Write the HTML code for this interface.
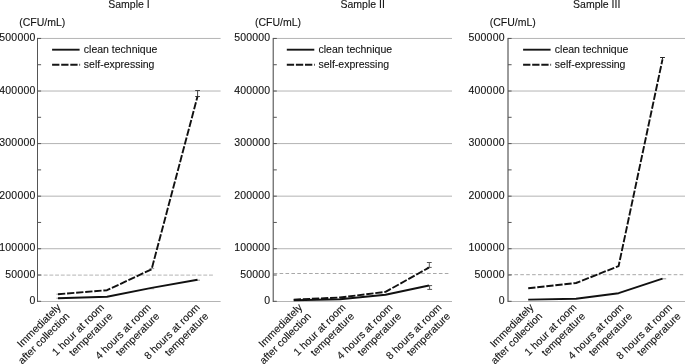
<!DOCTYPE html><html><head><meta charset="utf-8"><style>html,body{margin:0;padding:0;background:#fff;overflow:hidden;}svg{display:block;filter:grayscale(1);}text{font-family:"Liberation Sans",sans-serif;font-size:10.5px;fill:#141414;stroke:#141414;stroke-width:0.12px;}</style></head><body>
<svg width="685" height="364" viewBox="0 0 685 364">
<text x="129.0" y="7.5" text-anchor="middle">Sample I</text>
<text x="19.2" y="26.3">(CFU/mL)</text>
<line x1="37.5" y1="248.73" x2="220.6" y2="248.73" stroke="#b4b4b4" stroke-width="1"/>
<line x1="37.5" y1="196.16" x2="220.6" y2="196.16" stroke="#b4b4b4" stroke-width="1"/>
<line x1="37.5" y1="143.59" x2="220.6" y2="143.59" stroke="#b4b4b4" stroke-width="1"/>
<line x1="37.5" y1="91.02" x2="220.6" y2="91.02" stroke="#b4b4b4" stroke-width="1"/>
<line x1="37.5" y1="38.45" x2="220.6" y2="38.45" stroke="#b4b4b4" stroke-width="1"/>
<line x1="38.0" y1="275.1" x2="214" y2="275.1" stroke="#c4c4c4" stroke-width="1.3" stroke-dasharray="3.9 1.8"/>
<line x1="37.5" y1="301.5" x2="220.6" y2="301.5" stroke="#b4b4b4" stroke-width="1"/>
<line x1="37.5" y1="37.95" x2="37.5" y2="302.0" stroke="#555" stroke-width="1"/>
<line x1="37.5" y1="301.30" x2="41.1" y2="301.30" stroke="#555" stroke-width="1"/>
<line x1="37.5" y1="275.01" x2="41.1" y2="275.01" stroke="#555" stroke-width="1"/>
<line x1="37.5" y1="248.73" x2="41.1" y2="248.73" stroke="#555" stroke-width="1"/>
<line x1="37.5" y1="222.44" x2="41.1" y2="222.44" stroke="#555" stroke-width="1"/>
<line x1="37.5" y1="196.16" x2="41.1" y2="196.16" stroke="#555" stroke-width="1"/>
<line x1="37.5" y1="169.88" x2="41.1" y2="169.88" stroke="#555" stroke-width="1"/>
<line x1="37.5" y1="143.59" x2="41.1" y2="143.59" stroke="#555" stroke-width="1"/>
<line x1="37.5" y1="117.30" x2="41.1" y2="117.30" stroke="#555" stroke-width="1"/>
<line x1="37.5" y1="91.02" x2="41.1" y2="91.02" stroke="#555" stroke-width="1"/>
<line x1="37.5" y1="64.73" x2="41.1" y2="64.73" stroke="#555" stroke-width="1"/>
<line x1="37.5" y1="38.45" x2="41.1" y2="38.45" stroke="#555" stroke-width="1"/>
<text x="35.45" y="303.80" text-anchor="end" letter-spacing="0.18">0</text>
<text x="35.45" y="277.51" text-anchor="end" letter-spacing="0.18">50000</text>
<text x="35.45" y="251.23" text-anchor="end" letter-spacing="0.18">100000</text>
<text x="35.45" y="198.66" text-anchor="end" letter-spacing="0.18">200000</text>
<text x="35.45" y="146.09" text-anchor="end" letter-spacing="0.18">300000</text>
<text x="35.45" y="93.52" text-anchor="end" letter-spacing="0.18">400000</text>
<text x="35.45" y="40.95" text-anchor="end" letter-spacing="0.18">500000</text>
<line x1="52.1" y1="49.7" x2="79.6" y2="49.7" stroke="#161616" stroke-width="1.9"/>
<text x="83.8" y="52.7">clean technique</text>
<line x1="52.1" y1="64.8" x2="80.1" y2="64.8" stroke="#161616" stroke-width="1.9" stroke-dasharray="7.3 1.8"/>
<text x="83.8" y="67.7">self-expressing</text>
<line x1="197.6" y1="90.5" x2="197.6" y2="96.5" stroke="#444" stroke-width="1"/>
<line x1="195.2" y1="90.5" x2="200.0" y2="90.5" stroke="#444" stroke-width="1"/>
<line x1="195.2" y1="96.5" x2="200.0" y2="96.5" stroke="#444" stroke-width="1"/>
<line x1="149.4" y1="268.6" x2="154.20000000000002" y2="268.6" stroke="#999" stroke-width="1"/>
<line x1="149.4" y1="288.8" x2="154.20000000000002" y2="288.8" stroke="#aaa" stroke-width="1"/>
<line x1="195.2" y1="280.2" x2="200.0" y2="280.2" stroke="#999" stroke-width="1"/>
<line x1="56.4" y1="294.2" x2="61.199999999999996" y2="294.2" stroke="#999" stroke-width="1"/>
<line x1="56.4" y1="298.2" x2="61.199999999999996" y2="298.2" stroke="#999" stroke-width="1"/>
<polyline points="58,298.2 107,296.8 151.6,287.9 197.5,279.8" fill="none" stroke="#111" stroke-width="1.9" stroke-linejoin="round"/>
<polyline points="58,294.2 107,290.2 151.6,269.3 197.5,96.5" fill="none" stroke="#111" stroke-width="1.9" stroke-dasharray="7.3 1.8" stroke-linejoin="round"/>
<text transform="translate(61.40,308.00) rotate(-45)" text-anchor="end"><tspan x="0" y="0">Immediately</tspan><tspan x="0" y="12.4">after collection</tspan></text>
<text transform="translate(104.60,308.00) rotate(-45)" text-anchor="end"><tspan x="0" y="0">1 hour at room</tspan><tspan x="0" y="12.4">temperature</tspan></text>
<text transform="translate(151.40,308.00) rotate(-45)" text-anchor="end"><tspan x="0" y="0">4 hours at room</tspan><tspan x="0" y="12.4">temperature</tspan></text>
<text transform="translate(200.40,308.00) rotate(-45)" text-anchor="end"><tspan x="0" y="0">8 hours at room</tspan><tspan x="0" y="12.4">temperature</tspan></text>
<text x="362.65" y="7.5" text-anchor="middle">Sample II</text>
<text x="254.9" y="26.3">(CFU/mL)</text>
<line x1="273.2" y1="248.73" x2="452" y2="248.73" stroke="#b4b4b4" stroke-width="1"/>
<line x1="273.2" y1="196.16" x2="452" y2="196.16" stroke="#b4b4b4" stroke-width="1"/>
<line x1="273.2" y1="143.59" x2="452" y2="143.59" stroke="#b4b4b4" stroke-width="1"/>
<line x1="273.2" y1="91.02" x2="452" y2="91.02" stroke="#b4b4b4" stroke-width="1"/>
<line x1="273.2" y1="38.45" x2="452" y2="38.45" stroke="#b4b4b4" stroke-width="1"/>
<line x1="273.7" y1="273.5" x2="450" y2="273.5" stroke="#a8a8a8" stroke-width="1.0" stroke-dasharray="3.6 2.3"/>
<line x1="273.2" y1="301.5" x2="452" y2="301.5" stroke="#b4b4b4" stroke-width="1"/>
<line x1="273.2" y1="37.95" x2="273.2" y2="302.0" stroke="#404040" stroke-width="1"/>
<line x1="273.2" y1="301.30" x2="276.8" y2="301.30" stroke="#555" stroke-width="1"/>
<line x1="273.2" y1="275.01" x2="276.8" y2="275.01" stroke="#555" stroke-width="1"/>
<line x1="273.2" y1="248.73" x2="276.8" y2="248.73" stroke="#555" stroke-width="1"/>
<line x1="273.2" y1="222.44" x2="276.8" y2="222.44" stroke="#555" stroke-width="1"/>
<line x1="273.2" y1="196.16" x2="276.8" y2="196.16" stroke="#555" stroke-width="1"/>
<line x1="273.2" y1="169.88" x2="276.8" y2="169.88" stroke="#555" stroke-width="1"/>
<line x1="273.2" y1="143.59" x2="276.8" y2="143.59" stroke="#555" stroke-width="1"/>
<line x1="273.2" y1="117.30" x2="276.8" y2="117.30" stroke="#555" stroke-width="1"/>
<line x1="273.2" y1="91.02" x2="276.8" y2="91.02" stroke="#555" stroke-width="1"/>
<line x1="273.2" y1="64.73" x2="276.8" y2="64.73" stroke="#555" stroke-width="1"/>
<line x1="273.2" y1="38.45" x2="276.8" y2="38.45" stroke="#555" stroke-width="1"/>
<text x="270.40" y="303.80" text-anchor="end" letter-spacing="0.18">0</text>
<text x="270.40" y="277.51" text-anchor="end" letter-spacing="0.18">50000</text>
<text x="270.40" y="251.23" text-anchor="end" letter-spacing="0.18">100000</text>
<text x="270.40" y="198.66" text-anchor="end" letter-spacing="0.18">200000</text>
<text x="270.40" y="146.09" text-anchor="end" letter-spacing="0.18">300000</text>
<text x="270.40" y="93.52" text-anchor="end" letter-spacing="0.18">400000</text>
<text x="270.40" y="40.95" text-anchor="end" letter-spacing="0.18">500000</text>
<line x1="286.8" y1="49.7" x2="314.3" y2="49.7" stroke="#161616" stroke-width="1.9"/>
<text x="318.5" y="52.7">clean technique</text>
<line x1="286.8" y1="64.8" x2="314.8" y2="64.8" stroke="#161616" stroke-width="1.9" stroke-dasharray="7.3 1.8"/>
<text x="318.5" y="67.7">self-expressing</text>
<line x1="429.3" y1="262.5" x2="429.3" y2="267.4" stroke="#555" stroke-width="1"/>
<line x1="429.6" y1="285.6" x2="429.6" y2="289.4" stroke="#555" stroke-width="1"/>
<line x1="426.90000000000003" y1="262.5" x2="431.7" y2="262.5" stroke="#555" stroke-width="1"/>
<line x1="426.90000000000003" y1="267.4" x2="431.7" y2="267.4" stroke="#555" stroke-width="1"/>
<line x1="427.3" y1="285.6" x2="432.09999999999997" y2="285.6" stroke="#555" stroke-width="1"/>
<line x1="427.3" y1="289.4" x2="432.09999999999997" y2="289.4" stroke="#555" stroke-width="1"/>
<polyline points="293.7,300.2 340,299.3 385.5,294.8 429.0,285.5" fill="none" stroke="#111" stroke-width="1.9" stroke-linejoin="round"/>
<polyline points="293.7,299.6 340,297.5 385.5,291.9 429.0,267.6" fill="none" stroke="#111" stroke-width="1.9" stroke-dasharray="7.3 1.8" stroke-linejoin="round"/>
<text transform="translate(302.90,308.00) rotate(-45)" text-anchor="end"><tspan x="0" y="0">Immediately</tspan><tspan x="0" y="12.4">after collection</tspan></text>
<text transform="translate(346.10,308.00) rotate(-45)" text-anchor="end"><tspan x="0" y="0">1 hour at room</tspan><tspan x="0" y="12.4">temperature</tspan></text>
<text transform="translate(393.10,308.00) rotate(-45)" text-anchor="end"><tspan x="0" y="0">4 hours at room</tspan><tspan x="0" y="12.4">temperature</tspan></text>
<text transform="translate(442.20,308.00) rotate(-45)" text-anchor="end"><tspan x="0" y="0">8 hours at room</tspan><tspan x="0" y="12.4">temperature</tspan></text>
<text x="596.7" y="7.5" text-anchor="middle">Sample III</text>
<text x="489.7" y="26.3">(CFU/mL)</text>
<line x1="508.0" y1="248.73" x2="685" y2="248.73" stroke="#b4b4b4" stroke-width="1"/>
<line x1="508.0" y1="196.16" x2="685" y2="196.16" stroke="#b4b4b4" stroke-width="1"/>
<line x1="508.0" y1="143.59" x2="685" y2="143.59" stroke="#b4b4b4" stroke-width="1"/>
<line x1="508.0" y1="91.02" x2="685" y2="91.02" stroke="#b4b4b4" stroke-width="1"/>
<line x1="508.0" y1="38.45" x2="685" y2="38.45" stroke="#b4b4b4" stroke-width="1"/>
<line x1="508.5" y1="274.7" x2="685" y2="274.7" stroke="#a8a8a8" stroke-width="1.0" stroke-dasharray="3.6 2.3"/>
<line x1="508.0" y1="301.5" x2="685" y2="301.5" stroke="#b4b4b4" stroke-width="1"/>
<line x1="508.0" y1="37.95" x2="508.0" y2="302.0" stroke="#383838" stroke-width="1"/>
<line x1="508.0" y1="301.30" x2="511.6" y2="301.30" stroke="#555" stroke-width="1"/>
<line x1="508.0" y1="275.01" x2="511.6" y2="275.01" stroke="#555" stroke-width="1"/>
<line x1="508.0" y1="248.73" x2="511.6" y2="248.73" stroke="#555" stroke-width="1"/>
<line x1="508.0" y1="222.44" x2="511.6" y2="222.44" stroke="#555" stroke-width="1"/>
<line x1="508.0" y1="196.16" x2="511.6" y2="196.16" stroke="#555" stroke-width="1"/>
<line x1="508.0" y1="169.88" x2="511.6" y2="169.88" stroke="#555" stroke-width="1"/>
<line x1="508.0" y1="143.59" x2="511.6" y2="143.59" stroke="#555" stroke-width="1"/>
<line x1="508.0" y1="117.30" x2="511.6" y2="117.30" stroke="#555" stroke-width="1"/>
<line x1="508.0" y1="91.02" x2="511.6" y2="91.02" stroke="#555" stroke-width="1"/>
<line x1="508.0" y1="64.73" x2="511.6" y2="64.73" stroke="#555" stroke-width="1"/>
<line x1="508.0" y1="38.45" x2="511.6" y2="38.45" stroke="#555" stroke-width="1"/>
<text x="504.70" y="303.80" text-anchor="end" letter-spacing="0.18">0</text>
<text x="504.70" y="277.51" text-anchor="end" letter-spacing="0.18">50000</text>
<text x="504.70" y="251.23" text-anchor="end" letter-spacing="0.18">100000</text>
<text x="504.70" y="198.66" text-anchor="end" letter-spacing="0.18">200000</text>
<text x="504.70" y="146.09" text-anchor="end" letter-spacing="0.18">300000</text>
<text x="504.70" y="93.52" text-anchor="end" letter-spacing="0.18">400000</text>
<text x="504.70" y="40.95" text-anchor="end" letter-spacing="0.18">500000</text>
<line x1="523.1" y1="49.7" x2="550.6" y2="49.7" stroke="#161616" stroke-width="1.9"/>
<text x="554.8" y="52.7">clean technique</text>
<line x1="523.1" y1="64.8" x2="551.1" y2="64.8" stroke="#161616" stroke-width="1.9" stroke-dasharray="7.3 1.8"/>
<text x="554.8" y="67.7">self-expressing</text>
<line x1="662.5" y1="57.5" x2="662.5" y2="59.4" stroke="#222" stroke-width="1"/>
<line x1="660.1" y1="57.5" x2="664.9" y2="57.5" stroke="#222" stroke-width="1"/>
<line x1="661.4" y1="278.8" x2="666.1999999999999" y2="278.8" stroke="#999" stroke-width="1"/>
<polyline points="528.2,299.6 576,298.7 618.6,293.2 662.5,278.6" fill="none" stroke="#111" stroke-width="1.9" stroke-linejoin="round"/>
<polyline points="528.2,288.3 576,283.0 618.6,266.1 662.5,59.4" fill="none" stroke="#111" stroke-width="1.9" stroke-dasharray="7.3 1.8" stroke-linejoin="round"/>
<text transform="translate(534.20,308.00) rotate(-45)" text-anchor="end"><tspan x="0" y="0">Immediately</tspan><tspan x="0" y="12.4">after collection</tspan></text>
<text transform="translate(577.10,308.00) rotate(-45)" text-anchor="end"><tspan x="0" y="0">1 hour at room</tspan><tspan x="0" y="12.4">temperature</tspan></text>
<text transform="translate(624.20,308.00) rotate(-45)" text-anchor="end"><tspan x="0" y="0">4 hours at room</tspan><tspan x="0" y="12.4">temperature</tspan></text>
<text transform="translate(672.60,308.00) rotate(-45)" text-anchor="end"><tspan x="0" y="0">8 hours at room</tspan><tspan x="0" y="12.4">temperature</tspan></text>
</svg></body></html>
